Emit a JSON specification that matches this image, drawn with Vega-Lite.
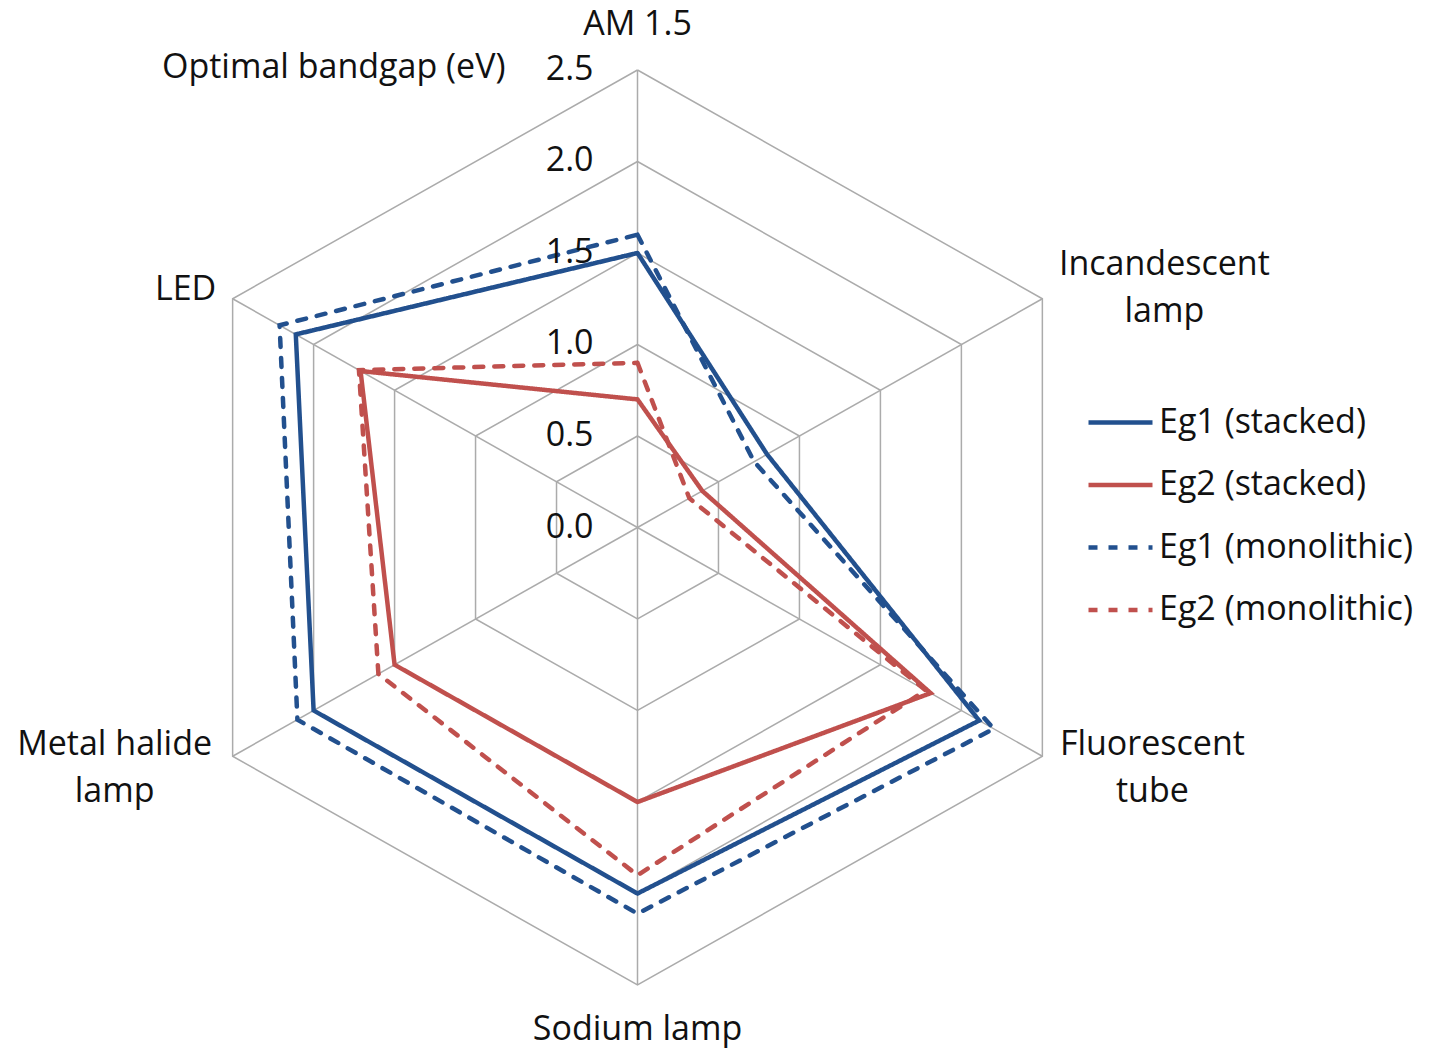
{
  "$schema": "https://vega.github.io/schema/vega-lite/v6.json",
  "width": 1430,
  "height": 1052,
  "autosize": "none",
  "padding": 0,
  "background": "white",
  "config": {"view": {"stroke": null}, "font": "Open Sans", "text": {"font": "Open Sans", "fontSize": 34, "color": "#111111"}},
  "datasets": {
    "series": [
      {"series": "Eg1 (stacked)", "axis": "AM 1.5", "k": 0, "eV": 1.50},
      {"series": "Eg1 (stacked)", "axis": "Incandescent lamp", "k": 1, "eV": 0.80},
      {"series": "Eg1 (stacked)", "axis": "Fluorescent tube", "k": 2, "eV": 2.11},
      {"series": "Eg1 (stacked)", "axis": "Sodium lamp", "k": 3, "eV": 2.00},
      {"series": "Eg1 (stacked)", "axis": "Metal halide lamp", "k": 4, "eV": 2.00},
      {"series": "Eg1 (stacked)", "axis": "LED", "k": 5, "eV": 2.11},
      {"series": "Eg1 (stacked)", "axis": "AM 1.5", "k": 6, "eV": 1.50},
      {"series": "Eg2 (stacked)", "axis": "AM 1.5", "k": 0, "eV": 0.70},
      {"series": "Eg2 (stacked)", "axis": "Incandescent lamp", "k": 1, "eV": 0.40},
      {"series": "Eg2 (stacked)", "axis": "Fluorescent tube", "k": 2, "eV": 1.81},
      {"series": "Eg2 (stacked)", "axis": "Sodium lamp", "k": 3, "eV": 1.50},
      {"series": "Eg2 (stacked)", "axis": "Metal halide lamp", "k": 4, "eV": 1.50},
      {"series": "Eg2 (stacked)", "axis": "LED", "k": 5, "eV": 1.71},
      {"series": "Eg2 (stacked)", "axis": "AM 1.5", "k": 6, "eV": 0.70},
      {"series": "Eg1 (monolithic)", "axis": "AM 1.5", "k": 0, "eV": 1.60},
      {"series": "Eg1 (monolithic)", "axis": "Incandescent lamp", "k": 1, "eV": 0.72},
      {"series": "Eg1 (monolithic)", "axis": "Fluorescent tube", "k": 2, "eV": 2.20},
      {"series": "Eg1 (monolithic)", "axis": "Sodium lamp", "k": 3, "eV": 2.11},
      {"series": "Eg1 (monolithic)", "axis": "Metal halide lamp", "k": 4, "eV": 2.10},
      {"series": "Eg1 (monolithic)", "axis": "LED", "k": 5, "eV": 2.21},
      {"series": "Eg1 (monolithic)", "axis": "AM 1.5", "k": 6, "eV": 1.60},
      {"series": "Eg2 (monolithic)", "axis": "AM 1.5", "k": 0, "eV": 0.90},
      {"series": "Eg2 (monolithic)", "axis": "Incandescent lamp", "k": 1, "eV": 0.32},
      {"series": "Eg2 (monolithic)", "axis": "Fluorescent tube", "k": 2, "eV": 1.78},
      {"series": "Eg2 (monolithic)", "axis": "Sodium lamp", "k": 3, "eV": 1.90},
      {"series": "Eg2 (monolithic)", "axis": "Metal halide lamp", "k": 4, "eV": 1.60},
      {"series": "Eg2 (monolithic)", "axis": "LED", "k": 5, "eV": 1.72},
      {"series": "Eg2 (monolithic)", "axis": "AM 1.5", "k": 6, "eV": 0.90}
    ],
    "rings": [
      {"level": 0.5, "k": 0}, {"level": 0.5, "k": 1}, {"level": 0.5, "k": 2}, {"level": 0.5, "k": 3}, {"level": 0.5, "k": 4}, {"level": 0.5, "k": 5}, {"level": 0.5, "k": 6},
      {"level": 1.0, "k": 0}, {"level": 1.0, "k": 1}, {"level": 1.0, "k": 2}, {"level": 1.0, "k": 3}, {"level": 1.0, "k": 4}, {"level": 1.0, "k": 5}, {"level": 1.0, "k": 6},
      {"level": 1.5, "k": 0}, {"level": 1.5, "k": 1}, {"level": 1.5, "k": 2}, {"level": 1.5, "k": 3}, {"level": 1.5, "k": 4}, {"level": 1.5, "k": 5}, {"level": 1.5, "k": 6},
      {"level": 2.0, "k": 0}, {"level": 2.0, "k": 1}, {"level": 2.0, "k": 2}, {"level": 2.0, "k": 3}, {"level": 2.0, "k": 4}, {"level": 2.0, "k": 5}, {"level": 2.0, "k": 6},
      {"level": 2.5, "k": 0}, {"level": 2.5, "k": 1}, {"level": 2.5, "k": 2}, {"level": 2.5, "k": 3}, {"level": 2.5, "k": 4}, {"level": 2.5, "k": 5}, {"level": 2.5, "k": 6}
    ],
    "spokes": [
      {"k": 0, "level": 2.5}, {"k": 1, "level": 2.5}, {"k": 2, "level": 2.5},
      {"k": 3, "level": 2.5}, {"k": 4, "level": 2.5}, {"k": 5, "level": 2.5}
    ],
    "ticks": [
      {"level": 0.0, "k": 0, "label": "0.0"},
      {"level": 0.5, "k": 0, "label": "0.5"},
      {"level": 1.0, "k": 0, "label": "1.0"},
      {"level": 1.5, "k": 0, "label": "1.5"},
      {"level": 2.0, "k": 0, "label": "2.0"},
      {"level": 2.5, "k": 0, "label": "2.5"}
    ],
    "categories": [
      {"k": 0, "level": 2.5, "label": "AM 1.5"},
      {"k": 1, "level": 2.5, "label": "Incandescent\nlamp"},
      {"k": 2, "level": 2.5, "label": "Fluorescent\ntube"},
      {"k": 3, "level": 2.5, "label": "Sodium lamp"},
      {"k": 4, "level": 2.5, "label": "Metal halide\nlamp"},
      {"k": 5, "level": 2.5, "label": "LED"}
    ]
  },
  "layer": [
    {
      "data": {"name": "rings"},
      "transform": [
        {"calculate": "datum.level * sin(datum.k * PI / 3)", "as": "px"},
        {"calculate": "datum.level * cos(datum.k * PI / 3)", "as": "py"}
      ],
      "mark": {"type": "line", "color": "#ABABAB", "strokeWidth": 1.5},
      "encoding": {
        "x": {"field": "px", "type": "quantitative", "scale": {"domain": [-3.4091, 4.238], "nice": false, "zero": false}, "axis": null},
        "y": {"field": "py", "type": "quantitative", "scale": {"domain": [-2.8661, 2.8825], "nice": false, "zero": false}, "axis": null},
        "detail": {"field": "level", "type": "nominal"},
        "order": {"field": "k", "type": "quantitative"}
      }
    },
    {
      "data": {"name": "spokes"},
      "transform": [
        {"calculate": "datum.level * sin(datum.k * PI / 3)", "as": "px"},
        {"calculate": "datum.level * cos(datum.k * PI / 3)", "as": "py"}
      ],
      "mark": {"type": "rule", "color": "#ABABAB", "strokeWidth": 1.5},
      "encoding": {
        "x": {"field": "px", "type": "quantitative", "scale": {"domain": [-3.4091, 4.238], "nice": false, "zero": false}, "axis": null},
        "y": {"field": "py", "type": "quantitative", "scale": {"domain": [-2.8661, 2.8825], "nice": false, "zero": false}, "axis": null},
        "x2": {"datum": 0},
        "y2": {"datum": 0}
      }
    },
    {
      "data": {"name": "series"},
      "transform": [
        {"calculate": "datum.eV * sin(datum.k * PI / 3)", "as": "px"},
        {"calculate": "datum.eV * cos(datum.k * PI / 3)", "as": "py"}
      ],
      "mark": {"type": "line", "strokeWidth": 4.5, "strokeCap": "round", "strokeJoin": "miter"},
      "encoding": {
        "x": {"field": "px", "type": "quantitative", "scale": {"domain": [-3.4091, 4.238], "nice": false, "zero": false}, "axis": null},
        "y": {"field": "py", "type": "quantitative", "scale": {"domain": [-2.8661, 2.8825], "nice": false, "zero": false}, "axis": null},
        "order": {"field": "k", "type": "quantitative"},
        "color": {
          "field": "series", "type": "nominal",
          "scale": {"domain": ["Eg1 (stacked)", "Eg2 (stacked)", "Eg1 (monolithic)", "Eg2 (monolithic)"], "range": ["#22508E", "#C0504D", "#22508E", "#C0504D"]},
          "legend": {
            "title": null, "orient": "none", "legendX": 1086, "legendY": 388,
            "symbolType": "stroke", "symbolSize": 4096, "symbolStrokeWidth": 4.5,
            "labelFont": "Open Sans", "labelFontSize": 34, "labelColor": "#111111", "labelOffset": 4,
            "rowPadding": 10.5, "padding": 0, "labelLimit": 400
          }
        },
        "strokeDash": {
          "field": "series", "type": "nominal",
          "scale": {"domain": ["Eg1 (stacked)", "Eg2 (stacked)", "Eg1 (monolithic)", "Eg2 (monolithic)"], "range": [[1, 0], [1, 0], [9, 11], [9, 11]]},
          "legend": {
            "title": null, "orient": "none", "legendX": 1086, "legendY": 388,
            "symbolType": "stroke", "symbolSize": 4096, "symbolStrokeWidth": 4.5,
            "labelFont": "Open Sans", "labelFontSize": 34, "labelColor": "#111111", "labelOffset": 4,
            "rowPadding": 10.5, "padding": 0, "labelLimit": 400
          }
        }
      }
    },
    {
      "data": {"name": "ticks"},
      "transform": [
        {"calculate": "datum.level * sin(datum.k * PI / 3)", "as": "px"},
        {"calculate": "datum.level * cos(datum.k * PI / 3)", "as": "py"}
      ],
      "mark": {"type": "text", "align": "right", "baseline": "middle", "dx": -44, "fontSize": 34},
      "encoding": {
        "x": {"field": "px", "type": "quantitative", "scale": {"domain": [-3.4091, 4.238], "nice": false, "zero": false}, "axis": null},
        "y": {"field": "py", "type": "quantitative", "scale": {"domain": [-2.8661, 2.8825], "nice": false, "zero": false}, "axis": null},
        "text": {"field": "label"}
      }
    },
    {
      "data": {"name": "ticks"},
      "transform": [
        {"filter": "datum.level == 2.5"},
        {"calculate": "datum.level * sin(datum.k * PI / 3)", "as": "px"},
        {"calculate": "datum.level * cos(datum.k * PI / 3)", "as": "py"}
      ],
      "mark": {"type": "text", "align": "right", "baseline": "middle", "dx": -132, "dy": -2, "fontSize": 34},
      "encoding": {
        "x": {"field": "px", "type": "quantitative", "scale": {"domain": [-3.4091, 4.238], "nice": false, "zero": false}, "axis": null},
        "y": {"field": "py", "type": "quantitative", "scale": {"domain": [-2.8661, 2.8825], "nice": false, "zero": false}, "axis": null},
        "text": {"value": "Optimal bandgap (eV)"}
      }
    },
    {
      "data": {"name": "categories"},
      "transform": [
        {"filter": "datum.k == 0"},
        {"calculate": "datum.level * sin(datum.k * PI / 3)", "as": "px"},
        {"calculate": "datum.level * cos(datum.k * PI / 3)", "as": "py"}
      ],
      "mark": {"type": "text", "align": "center", "baseline": "middle", "dy": -45, "fontSize": 34},
      "encoding": {
        "x": {"field": "px", "type": "quantitative", "scale": {"domain": [-3.4091, 4.238], "nice": false, "zero": false}, "axis": null},
        "y": {"field": "py", "type": "quantitative", "scale": {"domain": [-2.8661, 2.8825], "nice": false, "zero": false}, "axis": null},
        "text": {"field": "label"}
      }
    },
    {
      "data": {"name": "categories"},
      "transform": [
        {"filter": "datum.k == 1"},
        {"calculate": "datum.level * sin(datum.k * PI / 3)", "as": "px"},
        {"calculate": "datum.level * cos(datum.k * PI / 3)", "as": "py"}
      ],
      "mark": {"type": "text", "align": "center", "baseline": "middle", "dx": 122, "dy": -34, "fontSize": 34, "lineBreak": "\n", "lineHeight": 47},
      "encoding": {
        "x": {"field": "px", "type": "quantitative", "scale": {"domain": [-3.4091, 4.238], "nice": false, "zero": false}, "axis": null},
        "y": {"field": "py", "type": "quantitative", "scale": {"domain": [-2.8661, 2.8825], "nice": false, "zero": false}, "axis": null},
        "text": {"field": "label"}
      }
    },
    {
      "data": {"name": "categories"},
      "transform": [
        {"filter": "datum.k == 2"},
        {"calculate": "datum.level * sin(datum.k * PI / 3)", "as": "px"},
        {"calculate": "datum.level * cos(datum.k * PI / 3)", "as": "py"}
      ],
      "mark": {"type": "text", "align": "center", "baseline": "middle", "dx": 110, "dy": -11, "fontSize": 34, "lineBreak": "\n", "lineHeight": 47},
      "encoding": {
        "x": {"field": "px", "type": "quantitative", "scale": {"domain": [-3.4091, 4.238], "nice": false, "zero": false}, "axis": null},
        "y": {"field": "py", "type": "quantitative", "scale": {"domain": [-2.8661, 2.8825], "nice": false, "zero": false}, "axis": null},
        "text": {"field": "label"}
      }
    },
    {
      "data": {"name": "categories"},
      "transform": [
        {"filter": "datum.k == 3"},
        {"calculate": "datum.level * sin(datum.k * PI / 3)", "as": "px"},
        {"calculate": "datum.level * cos(datum.k * PI / 3)", "as": "py"}
      ],
      "mark": {"type": "text", "align": "center", "baseline": "middle", "dy": 45, "fontSize": 34},
      "encoding": {
        "x": {"field": "px", "type": "quantitative", "scale": {"domain": [-3.4091, 4.238], "nice": false, "zero": false}, "axis": null},
        "y": {"field": "py", "type": "quantitative", "scale": {"domain": [-2.8661, 2.8825], "nice": false, "zero": false}, "axis": null},
        "text": {"field": "label"}
      }
    },
    {
      "data": {"name": "categories"},
      "transform": [
        {"filter": "datum.k == 4"},
        {"calculate": "datum.level * sin(datum.k * PI / 3)", "as": "px"},
        {"calculate": "datum.level * cos(datum.k * PI / 3)", "as": "py"}
      ],
      "mark": {"type": "text", "align": "center", "baseline": "middle", "dx": -118, "dy": -11, "fontSize": 34, "lineBreak": "\n", "lineHeight": 47},
      "encoding": {
        "x": {"field": "px", "type": "quantitative", "scale": {"domain": [-3.4091, 4.238], "nice": false, "zero": false}, "axis": null},
        "y": {"field": "py", "type": "quantitative", "scale": {"domain": [-2.8661, 2.8825], "nice": false, "zero": false}, "axis": null},
        "text": {"field": "label"}
      }
    },
    {
      "data": {"name": "categories"},
      "transform": [
        {"filter": "datum.k == 5"},
        {"calculate": "datum.level * sin(datum.k * PI / 3)", "as": "px"},
        {"calculate": "datum.level * cos(datum.k * PI / 3)", "as": "py"}
      ],
      "mark": {"type": "text", "align": "center", "baseline": "middle", "dx": -47, "dy": -9, "fontSize": 34},
      "encoding": {
        "x": {"field": "px", "type": "quantitative", "scale": {"domain": [-3.4091, 4.238], "nice": false, "zero": false}, "axis": null},
        "y": {"field": "py", "type": "quantitative", "scale": {"domain": [-2.8661, 2.8825], "nice": false, "zero": false}, "axis": null},
        "text": {"field": "label"}
      }
    }
  ]
}
